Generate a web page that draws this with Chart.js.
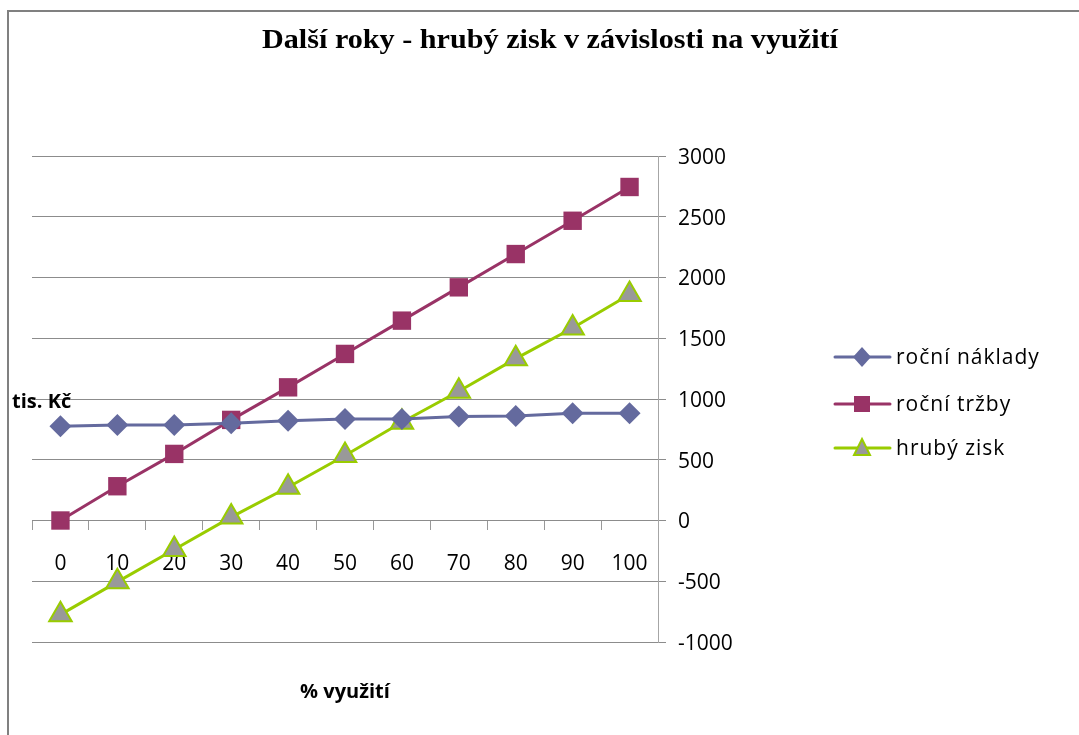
<!DOCTYPE html>
<html>
<head>
<meta charset="utf-8">
<script src="https://cdn.jsdelivr.net/npm/chart.js@4/dist/chart.umd.min.js"></script>
<style>
  html, body { margin: 0; padding: 0; background: #fff; }
  #wrap { width: 1079px; height: 735px; position: relative; }
</style>
</head>
<body>
<div id="wrap"><canvas id="chart" width="1079" height="735"></canvas></div>
<script>
// data (tis. Kč)
const vyuziti = ['0', '10', '20', '30', '40', '50', '60', '70', '80', '90', '100'];
const rocniNaklady = [775, 787, 787, 800, 822, 836, 836, 855, 861, 883, 883];
const rocniTrzby = [0, 282, 548, 828, 1096, 1371, 1645, 1919, 2193, 2467, 2745];
const hrubyZisk = [-775, -505, -239, 28, 274, 535, 809, 1064, 1332, 1584, 1860];

const title = 'Další roky - hrubý zisk v závislosti na využití';
const yTitle = 'tis. Kč';
const xTitle = '% využití';

const sans = "'Open Sans', 'Noto Sans', sans-serif";

// plot frame, title, axis titles and the legend on the right
const extras = {
  id: 'extras',
  beforeDraw(chart) {
    const ctx = chart.ctx;
    ctx.save();
    ctx.strokeStyle = '#808080';
    ctx.lineWidth = 2;
    ctx.beginPath();
    ctx.moveTo(8, 740);
    ctx.lineTo(8, 11);
    ctx.lineTo(1090, 11);
    ctx.stroke();
    ctx.restore();
  },
  afterDraw(chart) {
    const ctx = chart.ctx;
    const area = chart.chartArea;
    ctx.save();
    ctx.fillStyle = '#000';
    ctx.textBaseline = 'alphabetic';
    ctx.textAlign = 'center';
    ctx.font = "bold 28px 'Liberation Serif', 'DejaVu Serif', serif";
    // stretch title to the width it has in the original
    const tw = ctx.measureText(title).width;
    ctx.save();
    ctx.translate(550, 48);
    ctx.scale(576 / tw, 1);
    ctx.fillText(title, 0, 0);
    ctx.restore();

    ctx.font = 'bold 20px ' + sans;
    ctx.textAlign = 'left';
    ctx.fillText(yTitle, 12, 408);
    ctx.textAlign = 'center';
    ctx.fillText(xTitle, (area.left + area.right) / 2, 698);

    // legend
    const items = chart.data.datasets;
    const rows = [357, 404, 448];
    ctx.font = '21px ' + sans;
    ctx.letterSpacing = '1px';
    ctx.textAlign = 'left';
    ctx.textBaseline = 'middle';
    items.forEach((ds, i) => {
      const y = rows[i];
      ctx.strokeStyle = ds.borderColor;
      ctx.lineWidth = 3;
      ctx.lineCap = 'round';
      ctx.beginPath();
      ctx.moveTo(835, y);
      ctx.lineTo(890, y);
      ctx.stroke();
      ctx.fillStyle = ds.pointBackgroundColor;
      ctx.strokeStyle = ds.pointBorderColor;
      ctx.lineWidth = ds.pointBorderWidth;
      const cx = 862;
      ctx.beginPath();
      if (ds.pointStyle === 'rectRot') {
        ctx.moveTo(cx, y - 10); ctx.lineTo(cx + 9, y); ctx.lineTo(cx, y + 10); ctx.lineTo(cx - 9, y);
      } else if (ds.pointStyle === 'rect') {
        ctx.rect(cx - 8, y - 8, 16, 16);
      } else {
        ctx.moveTo(cx, y - 9); ctx.lineTo(cx + 8, y + 7); ctx.lineTo(cx - 8, y + 7);
      }
      ctx.closePath();
      ctx.fill();
      if (ds.pointBorderWidth) ctx.stroke();
      ctx.fillStyle = '#000';
      ctx.fillText(ds.label, 896, y + 1);
    });
    ctx.restore();
  }
};

new Chart(document.getElementById('chart'), {
  type: 'line',
  data: {
    labels: vyuziti,
    datasets: [{
      label: 'roční náklady',
      data: rocniNaklady,
      borderColor: '#646A9E',
      backgroundColor: '#646A9E',
      pointBackgroundColor: '#646A9E',
      pointBorderColor: '#646A9E',
      pointBorderWidth: 0,
      pointStyle: 'rectRot',
      pointRadius: 11,
      borderWidth: 3
    }, {
      label: 'roční tržby',
      data: rocniTrzby,
      borderColor: '#993366',
      backgroundColor: '#993366',
      pointBackgroundColor: '#993366',
      pointBorderColor: '#993366',
      pointBorderWidth: 0,
      pointStyle: 'rect',
      pointRadius: 13,
      borderWidth: 3
    }, {
      label: 'hrubý zisk',
      data: hrubyZisk,
      borderColor: '#99CC00',
      backgroundColor: '#99CC00',
      pointBackgroundColor: '#999999',
      pointBorderColor: '#99CC00',
      pointBorderWidth: 2,
      pointStyle: 'triangle',
      pointRadius: 13,
      borderWidth: 3
    }]
  },
  options: {
    responsive: false,
    animation: false,
    devicePixelRatio: 1,
    layout: { padding: { left: 32, top: 156, right: 341, bottom: 93 } },
    plugins: {
      legend: { display: false },
      tooltip: { enabled: false }
    },
    scales: {
      x: {
        type: 'category',
        position: { y: 0 },
        offset: true,
        grid: {
          offset: true,
          drawOnChartArea: false,
          drawTicks: true,
          tickLength: 9,
          color: '#999999'
        },
        border: { display: false },
        ticks: {
          color: '#000',
          padding: 22,
          maxRotation: 0,
          font: { family: sans, size: 21 }
        }
      },
      y: {
        position: 'right',
        min: -1000,
        max: 3000,
        afterFit(scale) { scale.width = 80; },
        grid: {
          color: '#8c8c8c',
          lineWidth: 1,
          tickLength: 8
        },
        border: { display: true, color: '#a6a6a6', width: 1 },
        ticks: {
          stepSize: 500,
          color: '#000',
          padding: 12,
          labelOffset: 2,
          font: { family: sans, size: 21 },
          callback: (v) => String(v)
        }
      }
    }
  },
  plugins: [extras]
});
</script>
</body>
</html>
